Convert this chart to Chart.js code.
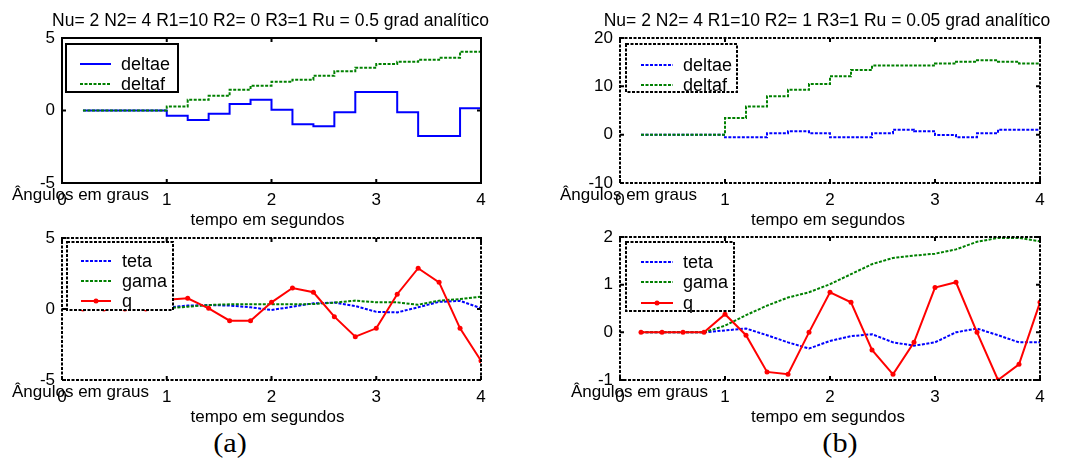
<!DOCTYPE html>
<html>
<head>
<meta charset="utf-8">
<script src="https://cdn.jsdelivr.net/npm/chart.js@4.4.1/dist/chart.umd.min.js"></script>
<style>
  html, body { margin: 0; padding: 0; background: #fff; }
  body { width: 1075px; height: 459px; position: relative; overflow: hidden; }
  canvas { position: absolute; }
  .rotulo { position: absolute; font-family: "Liberation Serif", "Times New Roman", serif; font-size: 27px; color: #000; line-height: 1; transform: translateX(-50%) scaleX(1.12); transform-origin: center; }
</style>
</head>
<body>
<canvas id="g1" width="537" height="232" style="left:0px;top:0px"></canvas>
<canvas id="g2" width="538" height="232" style="left:537px;top:0px"></canvas>
<canvas id="g3" width="537" height="200" style="left:0px;top:228px"></canvas>
<canvas id="g4" width="538" height="200" style="left:537px;top:228px"></canvas>
<div class="rotulo" style="left:230px;top:430px">(a)</div>
<div class="rotulo" style="left:840px;top:430px">(b)</div>
<script>
// Instantes de amostragem (s)
const tempo = [0.2, 0.4, 0.6, 0.8, 1.0, 1.2, 1.4, 1.6, 1.8, 2.0,
               2.2, 2.4, 2.6, 2.8, 3.0, 3.2, 3.4, 3.6, 3.8, 4.0];

// Marcas dos eixos
const ticksTempo = [0, 1, 2, 3, 4];
const ticksDeflexaoA = [-5, 0, 5];
const ticksDeflexaoB = [-10, 0, 10, 20];
const ticksAtitudeA = [-5, 0, 5];
const ticksAtitudeB = [-1, 0, 1, 2];

// Caso (a): Ru = 0.5, R2 = 0
const deltaeA = [0, 0, 0, 0, -0.37, -0.65, -0.23, 0.44, 0.74, 0.05,
                 -0.94, -1.08, -0.12, 1.27, 1.27, -0.12, -1.75, -1.75, 0.16, 2.53];
const deltafA = [0, 0, 0, 0, 0.28, 0.74, 1.01, 1.43, 1.71, 1.98,
                 2.12, 2.40, 2.70, 2.95, 3.20, 3.36, 3.50, 3.64, 4.06, 4.06];
const tetaA = [0, 0, 0, 0, 0.10, 0.24, 0.28, 0.24, 0.12, -0.07,
               0.16, 0.40, 0.45, 0.21, -0.20, -0.24, 0.12, 0.50, 0.58, 0.05];
const gamaA = [0, 0, 0, 0, 0.05, 0.16, 0.28, 0.33, 0.33, 0.33,
               0.33, 0.35, 0.45, 0.59, 0.47, 0.47, 0.30, 0.59, 0.70, 0.87];
const qA = [0, 0, 0, 0, 0.65, 0.75, 0.05, -0.82, -0.82, 0.47,
            1.48, 1.18, -0.54, -1.95, -1.36, 1.04, 2.87, 1.88, -1.36, -3.65];

// Caso (b): Ru = 0.05, R2 = 1
const deltaeB = [0, 0, 0, 0, -0.55, -0.55, 0.28, 0.69, 0.28, -0.55,
                 -0.55, 0.28, 1.04, 0.69, -0.07, -0.55, 0.28, 1.04, 1.04, 1.04];
const deltafB = [0, 0, 0, 0, 3.46, 5.82, 7.97, 9.29, 10.5, 12.1,
                 13.4, 14.3, 14.3, 14.3, 14.7, 15.1, 15.4, 15.1, 14.7, 14.7];
const tetaB = [0, 0, 0, 0, 0.04, 0.08, -0.06, -0.21, -0.34, -0.18,
               -0.08, -0.04, -0.21, -0.28, -0.21, 0, 0.08, -0.06, -0.21, -0.21];
const gamaB = [0, 0, 0, 0, 0.14, 0.36, 0.56, 0.73, 0.84, 1.01,
               1.22, 1.43, 1.56, 1.61, 1.65, 1.74, 1.90, 1.98, 1.98, 1.91];
const qB = [0, 0, 0, 0, 0.38, -0.06, -0.83, -0.88, 0, 0.84,
            0.63, -0.37, -0.88, -0.21, 0.94, 1.05, 0, -1.0, -0.67, 0.63];

const titulos = [
  'Nu= 2 N2= 4 R1=10 R2= 0 R3=1 Ru = 0.5 grad analítico',
  'Nu= 2 N2= 4 R1=10 R2= 1 R3=1 Ru = 0.05 grad analítico'
];
const rotuloX = 'tempo em segundos';
const rotuloY = 'Ângulos em graus';

const FONTE = '"Liberation Sans", Arial, Helvetica, sans-serif';
const AZUL = '#0000ff', VERDE = '#008000', VERMELHO = '#ff0000';
const TRACO = [3, 1.5];

Chart.defaults.font.family = FONTE;
Chart.defaults.font.size = 17;
Chart.defaults.color = '#000';

function pontos(valores) {
  return tempo.map((t, i) => ({ x: t, y: valores[i] }));
}

function fixarTicks(lista) {
  return (escala) => { escala.ticks = lista.map(v => ({ value: v })); };
}

// Moldura, marcas internas, legenda e textos de cada painel
const painel = {
  id: 'painel',
  afterDatasetsDraw(chart, args, o) {
    const { ctx, chartArea: a, scales: { x, y } } = chart;
    ctx.save();
    ctx.strokeStyle = '#000';
    ctx.lineWidth = 2;
    ctx.setLineDash(o.moldura);
    ctx.strokeRect(a.left, a.top, a.right - a.left, a.bottom - a.top);

    ctx.setLineDash([]);
    ctx.beginPath();
    x.ticks.forEach(t => {
      const px = x.getPixelForValue(t.value);
      ctx.moveTo(px, a.bottom); ctx.lineTo(px, a.bottom - 4);
      ctx.moveTo(px, a.top); ctx.lineTo(px, a.top + 4);
    });
    y.ticks.forEach(t => {
      const py = y.getPixelForValue(t.value);
      ctx.moveTo(a.left, py); ctx.lineTo(a.left + 4, py);
      ctx.moveTo(a.right, py); ctx.lineTo(a.right - 4, py);
    });
    ctx.stroke();

    // legenda
    const L = o.legenda;
    const lx = a.left + L.dx, ly = a.top + L.dy;
    ctx.fillStyle = '#fff';
    ctx.fillRect(lx, ly, L.w, L.h);
    ctx.setLineDash(o.moldura);
    ctx.strokeRect(lx, ly, L.w, L.h);
    ctx.font = '18px ' + FONTE;
    ctx.textBaseline = 'middle';
    chart.data.datasets.forEach((ds, i) => {
      const iy = ly + L.linhas[i];
      ctx.strokeStyle = ds.borderColor;
      ctx.lineWidth = 2;
      ctx.setLineDash(ds.borderDash || []);
      ctx.beginPath();
      ctx.moveTo(lx + L.a0, iy);
      ctx.lineTo(lx + L.a1, iy);
      ctx.stroke();
      if (ds.pointRadius) {
        ctx.fillStyle = ds.borderColor;
        ctx.beginPath();
        ctx.arc(lx + (L.a0 + L.a1) / 2, iy, ds.pointRadius, 0, Math.PI * 2);
        ctx.fill();
      }
      ctx.fillStyle = '#000';
      ctx.fillText(ds.label, lx + L.tx, iy + 1);
    });
    ctx.restore();
  },
  afterDraw(chart, args, o) {
    const { ctx, chartArea: a } = chart;
    const meio = (a.left + a.right) / 2;
    ctx.save();
    ctx.fillStyle = '#000';
    ctx.textBaseline = 'middle';
    if (o.titulo) {
      ctx.font = '17.5px ' + FONTE;
      ctx.textAlign = 'center';
      ctx.fillText(o.titulo, meio + o.dxTitulo, a.top - 17);
    }
    ctx.font = '17px ' + FONTE;
    ctx.textAlign = 'center';
    ctx.fillText(rotuloX, meio + o.dxRotuloX, a.bottom + 37);
    ctx.textAlign = 'left';
    ctx.fillText(rotuloY, a.left + o.dxRotuloY, a.bottom + 12);
    ctx.restore();
  }
};

function serie(rotulo, valores, cor, extra) {
  return Object.assign({
    label: rotulo,
    data: pontos(valores),
    borderColor: cor,
    backgroundColor: cor,
    borderWidth: 2,
    pointRadius: 0,
    tension: 0,
    fill: false
  }, extra || {});
}

function criar(id, conjuntos, ticksY, limY, arranjo, decoracao) {
  new Chart(document.getElementById(id), {
    type: 'line',
    data: { datasets: conjuntos },
    options: {
      responsive: false,
      animation: false,
      devicePixelRatio: 1,
      events: [],
      layout: { padding: { left: 0, top: arranjo.topo, right: arranjo.direita, bottom: 0 } },
      plugins: {
        legend: { display: false },
        tooltip: { enabled: false },
        painel: decoracao
      },
      scales: {
        x: {
          type: 'linear',
          min: 0, max: 4,
          afterBuildTicks: fixarTicks(ticksTempo),
          afterFit: (s) => { s.height = arranjo.alturaX; s.paddingLeft = 0; s.paddingRight = 0; },
          grid: { display: false, drawTicks: false },
          border: { display: false },
          ticks: { padding: 7, font: { size: 17 }, callback: v => String(v) }
        },
        y: {
          type: 'linear',
          min: limY[0], max: limY[1],
          afterBuildTicks: fixarTicks(ticksY),
          afterFit: (s) => { s.width = arranjo.larguraY; s.paddingTop = 0; s.paddingBottom = 0; },
          grid: { display: false, drawTicks: false },
          border: { display: false },
          ticks: { padding: 7, font: { size: 17 }, callback: v => String(v) }
        }
      }
    },
    plugins: [painel]
  });
}

// (a) superior: deflexões
criar('g1', [
  serie('deltae', deltaeA, AZUL, { stepped: 'before', order: 1 }),
  serie('deltaf', deltafA, VERDE, { stepped: 'before', borderDash: TRACO, order: 0 })
], ticksDeflexaoA, [-5, 5],
{ topo: 38, direita: 56, larguraY: 62, alturaX: 49 },
{ moldura: [], titulo: titulos[0], dxTitulo: -1, dxRotuloX: -4, dxRotuloY: -50,
  legenda: { dx: 4, dy: 6, w: 112, h: 48, linhas: [20, 40], a0: 14, a1: 45, tx: 55 } });

// (b) superior: deflexões
criar('g2', [
  serie('deltae', deltaeB, AZUL, { stepped: 'before', borderDash: TRACO, order: 1 }),
  serie('deltaf', deltafB, VERDE, { stepped: 'before', borderDash: TRACO, order: 0 })
], ticksDeflexaoB, [-10, 20],
{ topo: 38, direita: 35, larguraY: 83, alturaX: 49 },
{ moldura: TRACO, titulo: titulos[1], dxTitulo: -3, dxRotuloX: -2, dxRotuloY: -60,
  legenda: { dx: 6, dy: 6, w: 111, h: 48, linhas: [21, 41], a0: 15, a1: 47, tx: 57 } });

// (a) inferior: atitude e razão de arfagem
criar('g3', [
  serie('teta', tetaA, AZUL, { borderDash: TRACO, order: 2 }),
  serie('gama', gamaA, VERDE, { borderDash: TRACO, order: 1 }),
  serie('q', qA, VERMELHO, { pointRadius: 2.5, pointBorderWidth: 0, pointBackgroundColor: VERMELHO, order: 0 })
], ticksAtitudeA, [-5, 5],
{ topo: 10, direita: 56, larguraY: 62, alturaX: 48 },
{ moldura: TRACO, titulo: null, dxRotuloX: -4, dxRotuloY: -50,
  legenda: { dx: 5, dy: 4, w: 106, h: 68, linhas: [19, 39, 59], a0: 14, a1: 44, tx: 55 } });

// (b) inferior: atitude e razão de arfagem
criar('g4', [
  serie('teta', tetaB, AZUL, { borderDash: TRACO, order: 2 }),
  serie('gama', gamaB, VERDE, { borderDash: TRACO, order: 1 }),
  serie('q', qB, VERMELHO, { pointRadius: 2.5, pointBorderWidth: 0, pointBackgroundColor: VERMELHO, order: 0 })
], ticksAtitudeB, [-1, 2],
{ topo: 9, direita: 35, larguraY: 83, alturaX: 48 },
{ moldura: TRACO, titulo: null, dxRotuloX: -2, dxRotuloY: -49,
  legenda: { dx: 6, dy: 5, w: 108, h: 69, linhas: [20, 40, 61], a0: 15, a1: 47, tx: 57 } });
</script>
</body>
</html>
